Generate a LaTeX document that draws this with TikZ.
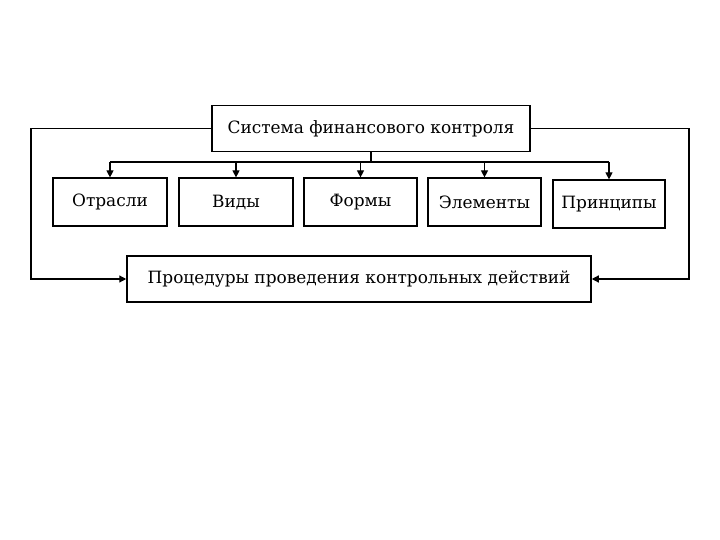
\documentclass[tikz,border=0pt]{standalone}
\usepackage{fontspec}
\setmainfont{DejaVu Serif}
\usetikzlibrary{arrows.meta}
\begin{document}
\begin{tikzpicture}[x=1bp,y=-1bp,
  box/.style={draw,line width=1.2pt,minimum height=46bp,inner sep=0pt,font=\fontsize{17}{19}\selectfont},
  arr/.style={-{Triangle[length=7bp,width=7bp]},line width=1.2pt}]
\useasboundingbox (0,0) rectangle (720,540);
\node[box,minimum width=318bp] (top) at (371,128.5) {Система финансового контроля};
\node[box,minimum width=114bp,minimum height=48bp] (a) at (110,202) {Отрасли};
\node[box,minimum width=114bp,minimum height=48bp] (b) at (236,202) {Виды};
\node[box,minimum width=113bp,minimum height=48bp] (c) at (360.5,202) {Формы};
\node[box,minimum width=113bp,minimum height=48bp] (d) at (484.5,202) {Элементы};
\node[box,minimum width=112bp,minimum height=48bp] (e) at (609,204) {Принципы};
\node[box,minimum width=464bp,line width=1.5pt] (bot) at (359,279) {Процедуры проведения контрольных действий};
\coordinate (j) at (371,162);
\draw[line width=1.2pt] (top.south) -- (j);
\draw[line width=1.2pt] (110,162) -- (609,162);
\foreach \n/\x in {a/110,b/236,c/360.5,d/484.5,e/609}
  \draw[arr] (\x,162) -- (\n.north);
\draw[arr] (top.west) -- (31,128.5) -- (31,279) -- (bot.west);
\draw[arr] (top.east) -- (689,128.5) -- (689,279) -- (bot.east);
\end{tikzpicture}
\end{document}
